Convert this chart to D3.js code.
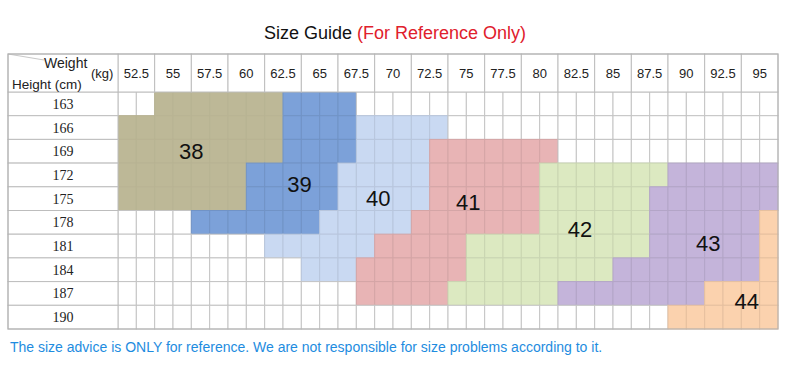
<!DOCTYPE html>
<html>
<head>
<meta charset="utf-8">
<title>Size Guide</title>
<script src="https://d3js.org/d3.v7.min.js"></script>
<style>
  body { margin: 0; background: #fff; }
  text { font-family: "Liberation Sans", Arial, sans-serif; }
</style>
</head>
<body>
<div id="chart"></div>
<script>
// weights (kg) across the top, heights (cm) down the side
var weights = ["52.5","55","57.5","60","62.5","65","67.5","70","72.5","75","77.5","80","82.5","85","87.5","90","92.5","95"];
var heights = ["163","166","169","172","175","178","181","184","187","190"];
var sizes = ["38","39","40","41","42","43","44"];
var sizeColors = ["#bdb897","#7ca1d9","#c9d9f2","#e8b4b5","#dce9c1","#c4b4da","#fbd2ae"];

// each row: [size, first half-column, last half-column] (two half-columns per weight)
var rowSpans = [
  [["38",2,8],["39",9,12]],
  [["38",0,8],["39",9,12],["40",13,17]],
  [["38",0,8],["39",9,12],["40",13,16],["41",17,23]],
  [["38",0,6],["39",7,11],["40",12,16],["41",17,22],["42",23,29],["43",30,35]],
  [["38",0,6],["39",7,11],["40",12,16],["41",17,22],["42",23,28],["43",29,35]],
  [["39",4,10],["40",11,15],["41",16,22],["42",23,28],["43",29,34],["44",35,35]],
  [["40",8,13],["41",14,18],["42",19,28],["43",29,34],["44",35,35]],
  [["40",10,12],["41",13,18],["42",19,26],["43",27,34],["44",35,35]],
  [["41",13,17],["42",18,23],["43",24,31],["44",32,35]],
  [["44",30,35]]
];

// where each size number sits, in half-column / row units
var labelPos = [
  ["38",4.0,2.5],["39",9.9,3.9],["40",14.2,4.5],["41",19.1,4.65],
  ["42",25.2,5.8],["43",32.2,6.4],["44",34.3,8.85]
];

var width = 790, height = 370;
var gLeft = 8, colStart = 118, gRight = 778;
var gTop = 54, headBottom = 92, gBottom = 329;

var svg = d3.select("#chart").append("svg")
  .attr("width", width)
  .attr("height", height);

var color = d3.scaleOrdinal().domain(sizes).range(sizeColors);
var weightX = d3.scaleBand().domain(weights).range([colStart, gRight]);
var halfX = d3.scaleBand().domain(d3.range(weights.length * 2)).range([colStart, gRight]);
var rowY = d3.scaleBand().domain(heights).range([headBottom, gBottom]);
var subW = halfX.bandwidth(), rowH = rowY.bandwidth();

// title
var title = svg.append("text")
  .attr("x", width / 2)
  .attr("y", 39)
  .attr("text-anchor", "middle")
  .style("font-size", "18px");
title.append("tspan").text("Size Guide ").attr("fill", "#111");
title.append("tspan").text("(For Reference Only)").attr("fill", "#e0202c");

// cells
var cells = [];
heights.forEach(function(h, r) {
  d3.range(weights.length * 2).forEach(function(c) {
    var s = null;
    rowSpans[r].forEach(function(sp) {
      if (c >= sp[1] && c <= sp[2]) s = sp[0];
    });
    cells.push({h: h, c: c, size: s});
  });
});

svg.append("g").selectAll("rect")
  .data(cells)
  .enter()
  .append("rect")
  .attr("x", function(d) { return halfX(d.c); })
  .attr("y", function(d) { return rowY(d.h); })
  .attr("width", subW)
  .attr("height", rowH)
  .attr("fill", function(d) { return d.size ? color(d.size) : "#fff"; })
  .attr("stroke", function(d) {
    if (!d.size) return "#c4c4c4";
    if (d.size == "38") return d3.color(color(d.size)).darker(0.08);
    return d3.color(color(d.size)).darker(0.25);
  })
  .attr("stroke-width", 1);

// row label column
svg.append("g").selectAll("rect")
  .data(heights)
  .enter()
  .append("rect")
  .attr("x", gLeft)
  .attr("y", function(d) { return rowY(d); })
  .attr("width", colStart - gLeft)
  .attr("height", rowH)
  .attr("fill", "#fff")
  .attr("stroke", "#bdbdbd");

svg.append("g").selectAll("text")
  .data(heights)
  .enter()
  .append("text")
  .text(function(d) { return d; })
  .attr("x", (gLeft + colStart) / 2)
  .attr("y", function(d) { return rowY(d) + rowH / 2 + 5; })
  .attr("text-anchor", "middle")
  .style("font-family", "'Liberation Serif', 'DejaVu Serif', serif")
  .style("font-size", "14px")
  .attr("fill", "#222");

// header row
svg.append("g").selectAll("rect")
  .data(weights)
  .enter()
  .append("rect")
  .attr("x", function(d) { return weightX(d); })
  .attr("y", gTop)
  .attr("width", weightX.bandwidth())
  .attr("height", headBottom - gTop)
  .attr("fill", "#fff")
  .attr("stroke", "#bdbdbd");

svg.append("g").selectAll("text")
  .data(weights)
  .enter()
  .append("text")
  .text(function(d) { return d; })
  .attr("x", function(d) { return weightX(d) + weightX.bandwidth() / 2; })
  .attr("y", 78)
  .attr("text-anchor", "middle")
  .style("font-size", "13px")
  .attr("fill", "#222");

// corner cell
svg.append("rect")
  .attr("x", gLeft).attr("y", gTop)
  .attr("width", colStart - gLeft).attr("height", headBottom - gTop)
  .attr("fill", "#fff").attr("stroke", "#bdbdbd");
svg.append("line")
  .attr("x1", gLeft).attr("y1", gTop)
  .attr("x2", 44).attr("y2", 60)
  .attr("stroke", "#c8c8c8");
svg.append("text").text("Weight")
  .attr("x", 44).attr("y", 68)
  .style("font-size", "14px").attr("fill", "#222");
svg.append("text").text("(kg)")
  .attr("x", 91).attr("y", 78)
  .style("font-size", "13px").attr("fill", "#222");
svg.append("text").text("Height (cm)")
  .attr("x", 12).attr("y", 89)
  .style("font-size", "13.5px").attr("fill", "#222");

// outer border
svg.append("rect")
  .attr("x", gLeft).attr("y", gTop)
  .attr("width", gRight - gLeft).attr("height", gBottom - gTop)
  .attr("fill", "none").attr("stroke", "#b0b0b0");

// size numbers
svg.append("g").selectAll("text")
  .data(labelPos)
  .enter()
  .append("text")
  .text(function(d) { return d[0]; })
  .attr("x", function(d) { return colStart + d[1] * subW; })
  .attr("y", function(d) { return headBottom + d[2] * rowH; })
  .attr("text-anchor", "middle")
  .attr("dominant-baseline", "central")
  .style("font-size", "22px")
  .attr("fill", "#111");

// footer note
svg.append("text")
  .text("The size advice is ONLY for reference. We are not responsible for size problems according to it.")
  .attr("x", 10)
  .attr("y", 352)
  .style("font-size", "14px")
  .attr("fill", "#1e8ce0");
</script>
</body>
</html>
